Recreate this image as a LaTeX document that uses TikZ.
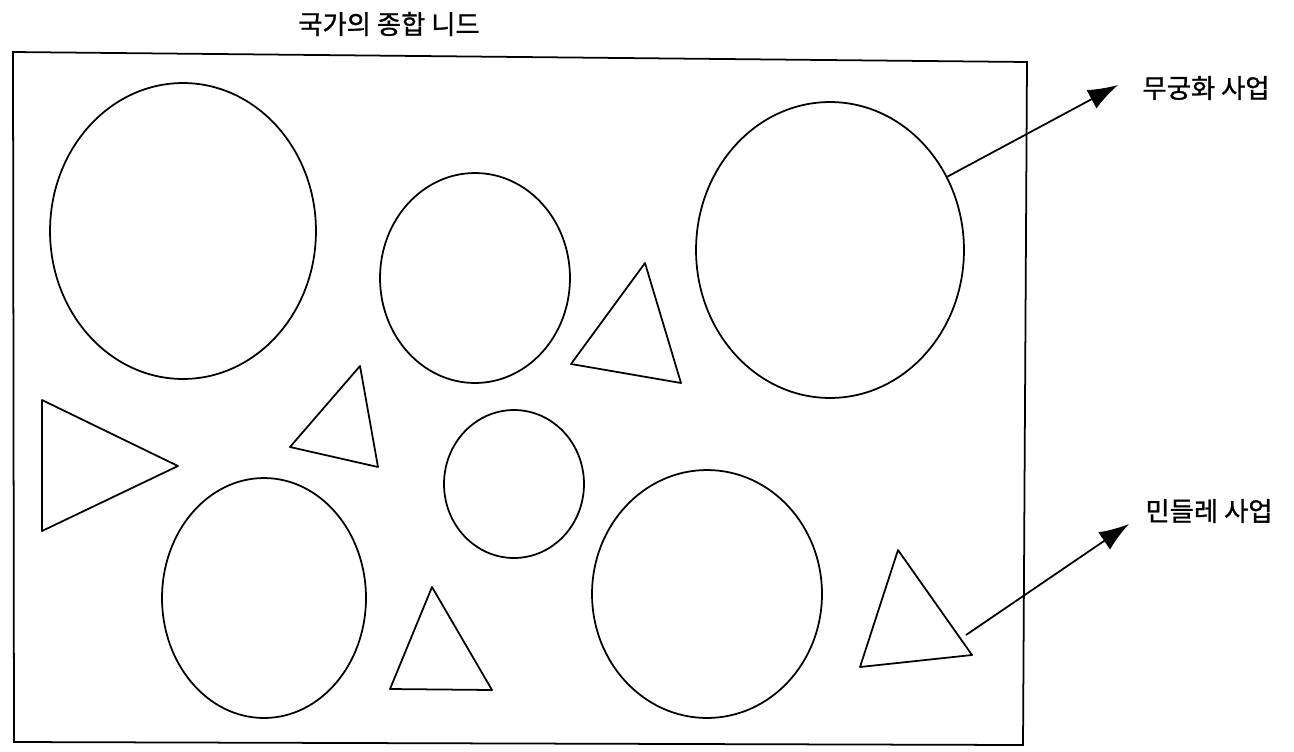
\documentclass[tikz,border=0pt]{standalone}
\usepackage{fontspec}
\newfontfamily\kr[FakeBold=1]{Noto Sans CJK KR}
\usetikzlibrary{shapes.geometric,arrows.meta}
\tikzset{
  line/.style={line width=1pt, black},
  blob/.style={line, draw, ellipse, inner sep=0pt},
  tri/.style={line, line join=round},
  lbl/.style={font=\kr\fontsize{15pt}{18pt}\selectfont, inner sep=0pt},
  pointer/.style={line width=1pt, -{Latex[length=0.6cm,width=0.42cm]}}
}
\begin{document}
\begin{tikzpicture}[x=0.02cm,y=-0.02cm]
\useasboundingbox (0,0) rectangle (1294,751);
% frame
\draw[line] (13,52) -- (1027,62) -- (1023,745) -- (14,742) -- cycle;
% title and labels
\node[lbl] (title) at (389,24) {국가의 종합 니드};
\node[lbl] (lab1) at (1206,88) {무궁화 사업};
\node[lbl] (lab2) at (1209,511) {민들레 사업};
% circles
\node[blob, minimum width=5.32cm, minimum height=5.92cm] (c1) at (183,231) {};
\node[blob, minimum width=3.8cm, minimum height=4.2cm] (c2) at (475,278) {};
\node[blob, minimum width=5.36cm, minimum height=5.92cm] (c3) at (830,250) {};
\node[blob, minimum width=2.8cm, minimum height=2.96cm] (c4) at (514,484) {};
\node[blob, minimum width=4.08cm, minimum height=4.8cm] (c5) at (264,598) {};
\node[blob, minimum width=4.6cm, minimum height=4.96cm] (c6) at (707,594) {};
% triangles
\draw[tri] (42,400) -- (178,466) -- (42,531) -- cycle;
\draw[tri] (290,447) -- (360,366) -- (378,467) -- cycle;
\draw[tri] (571,364) -- (645,263) -- (681,383) -- cycle;
\draw[tri] (390,689) -- (432,587) -- (492,690) -- cycle;
\draw[tri] (860,667) -- (898,550) -- (972,655) -- cycle;
% arrows
\coordinate (a1) at (1118,85);
\coordinate (t5) at (966,635);
\coordinate (a2) at (1129,524);
\draw[pointer] (c3.32.5) -- (a1);
\draw[pointer] (t5) -- (a2);
\end{tikzpicture}
\end{document}
